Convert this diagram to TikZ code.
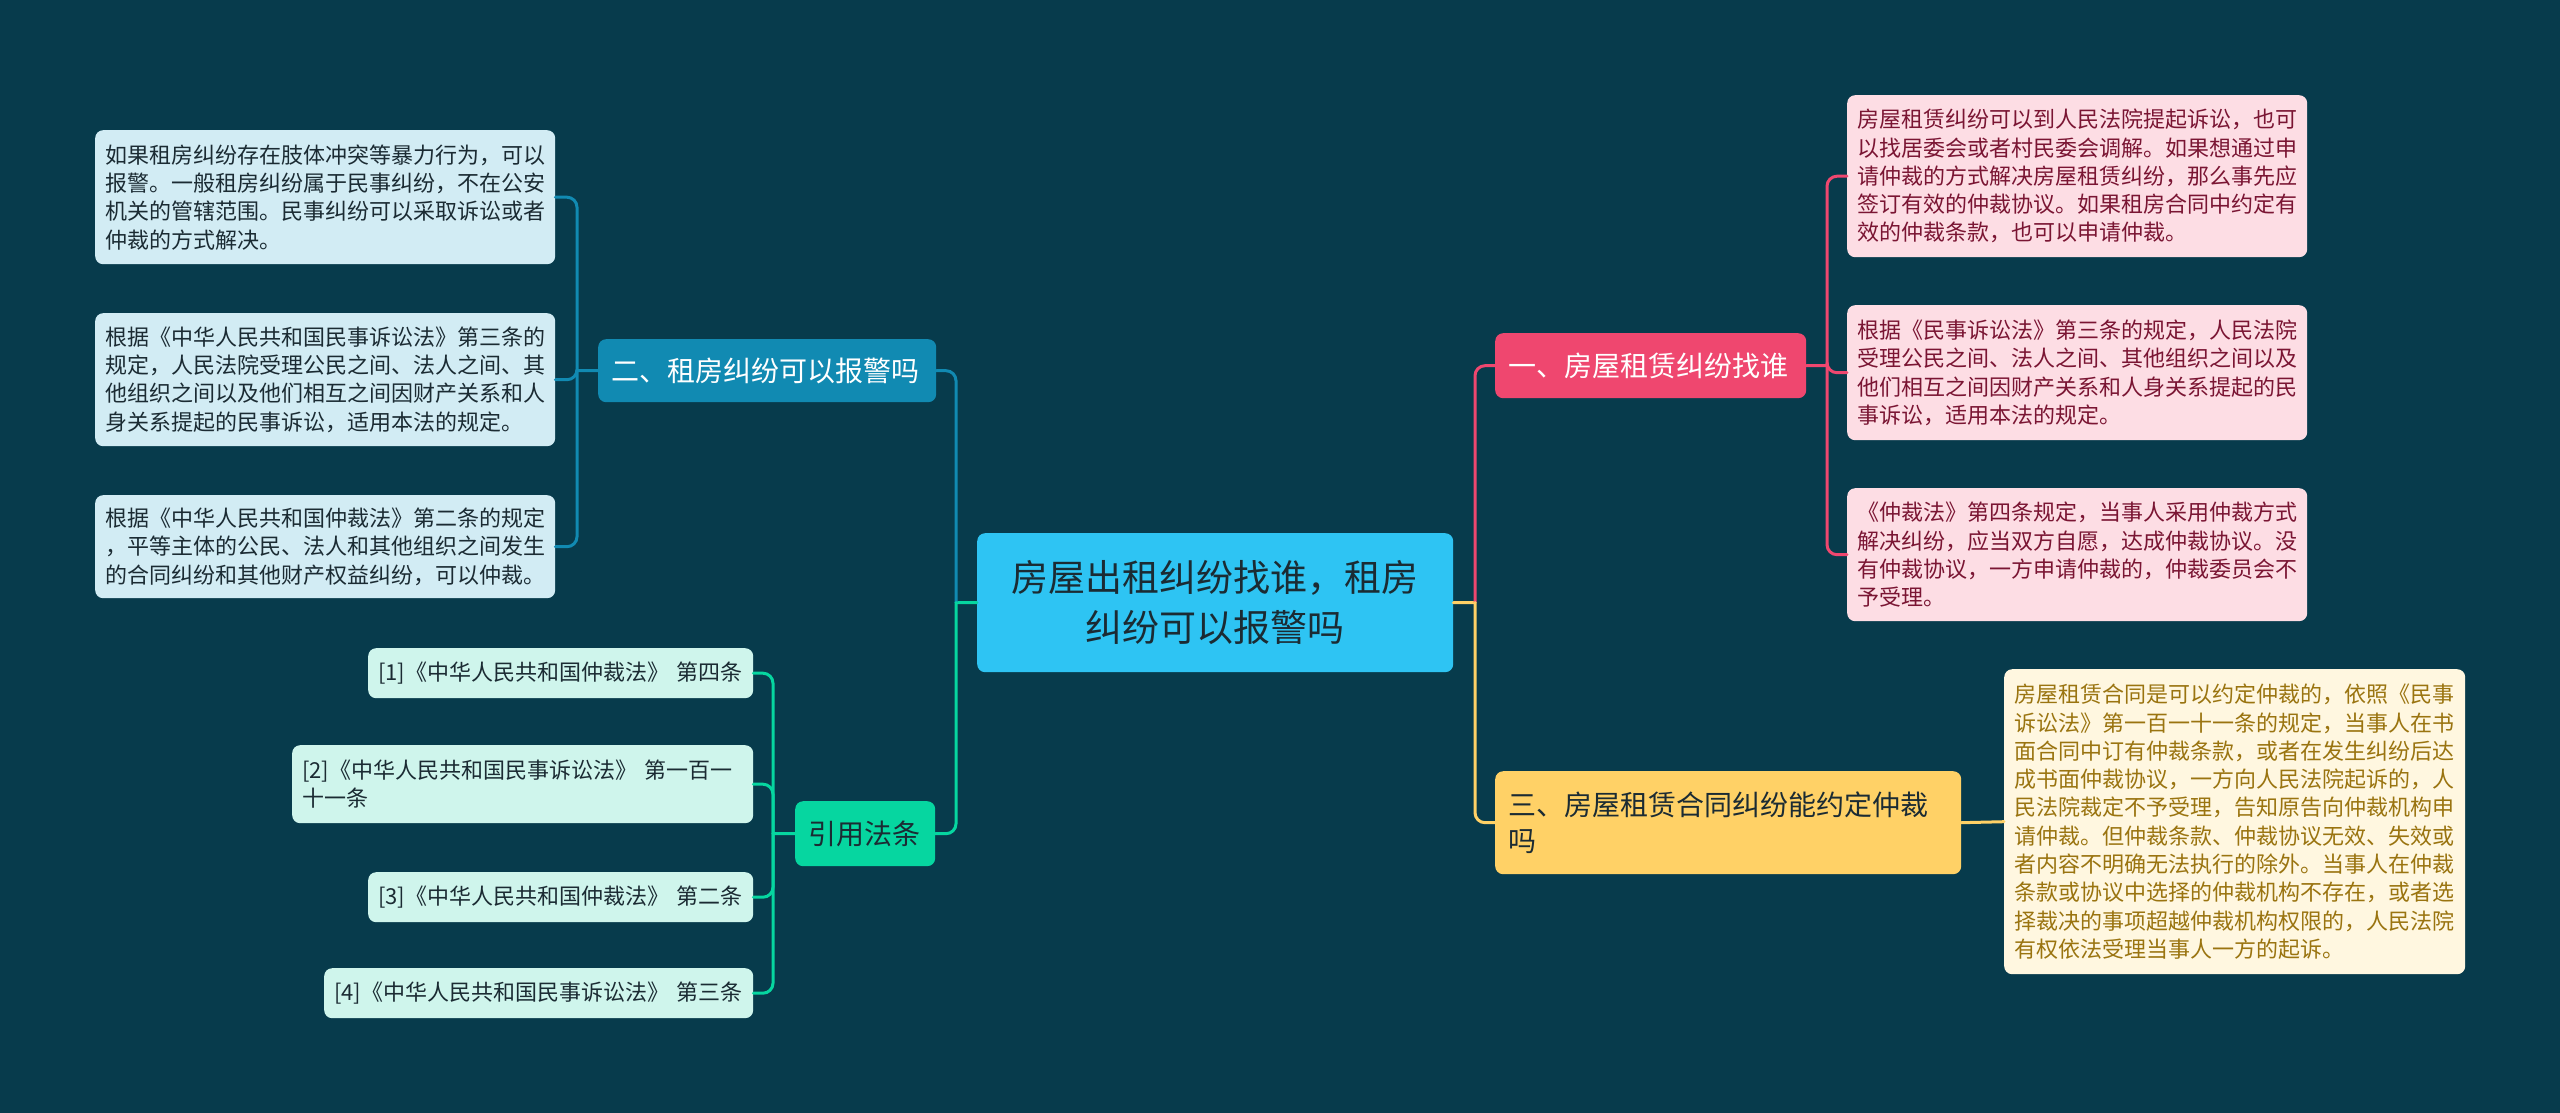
\documentclass[tikz,border=0pt]{standalone}
\usepackage{fontspec}
\setmainfont{Noto Sans CJK SC}
\definecolor{bg}{HTML}{073B4C}
\definecolor{cblue}{HTML}{2EC4F3}
\definecolor{cpink}{HTML}{EF476F}
\definecolor{cyel}{HTML}{FFD166}
\definecolor{cteal}{HTML}{118AB2}
\definecolor{cgreen}{HTML}{06D6A0}
\definecolor{lpink}{HTML}{FDDDE4}
\definecolor{tpink}{HTML}{7A1533}
\definecolor{lyel}{HTML}{FFF7E0}
\definecolor{tyel}{HTML}{9A7410}
\definecolor{lblue}{HTML}{D2ECF4}
\definecolor{lmint}{HTML}{CFF5EC}
\definecolor{tdark}{HTML}{1B2B33}
\begin{document}
\begin{tikzpicture}[x=1pt,y=1pt,
  box/.style={rounded corners=8, inner ysep=0, anchor=north west, align=left},
  small/.style={font=\fontsize{22}{28.3}\selectfont, inner xsep=10},
  big/.style={font=\fontsize{28}{36}\selectfont, inner xsep=13},
  leafR/.style={box, small, fill=lpink, text=tpink},
  leafY/.style={box, small, fill=lyel, text=tyel},
  leafL/.style={box, small, fill=lblue, text=tdark},
  leafC/.style={box, small, fill=lmint, text=tdark, inner xsep=10},
  conn/.style={line width=3, line cap=round, rounded corners=10},
]
\fill[bg] (0,0) rectangle (2560,-1113);
\useasboundingbox (0,0) rectangle (2560,-1113);

% central
\node[box, align=center, fill=cblue, text=tdark, font=\fontsize{37}{50}\selectfont,
  minimum height=139, text width=476, inner xsep=0] (C) at (977,-533)
  {房屋出租纠纷找谁，租房\\纠纷可以报警吗};

% main branches
\node[box, big, fill=cpink, text=white, minimum height=65, text width=285] (B1) at (1495,-333)
  {一、房屋租赁纠纷找谁};
\node[box, big, fill=cteal, text=white, minimum height=63, text width=312] (B2) at (598,-339)
  {二、租房纠纷可以报警吗};
\node[box, big, fill=cyel, text=tdark, minimum height=103, text width=440] (B3) at (1495,-771)
  {三、房屋租赁合同纠纷能约定仲裁\\吗};
\node[box, big, fill=cgreen, text=tdark, minimum height=65, text width=114] (B4) at (795,-801)
  {引用法条};

% right leaves
\node[leafR, minimum height=162, text width=440] (R1) at (1847,-95)
  {房屋租赁纠纷可以到人民法院提起诉讼，也可\\以找居委会或者村民委会调解。如果想通过申\\请仲裁的方式解决房屋租赁纠纷，那么事先应\\签订有效的仲裁协议。如果租房合同中约定有\\效的仲裁条款，也可以申请仲裁。};
\node[leafR, minimum height=135, text width=440] (R2) at (1847,-305)
  {根据《民事诉讼法》第三条的规定，人民法院\\受理公民之间、法人之间、其他组织之间以及\\他们相互之间因财产关系和人身关系提起的民\\事诉讼，适用本法的规定。};
\node[leafR, minimum height=133, text width=440] (R3) at (1847,-488)
  {《仲裁法》第四条规定，当事人采用仲裁方式\\解决纠纷，应当双方自愿，达成仲裁协议。没\\有仲裁协议，一方申请仲裁的，仲裁委员会不\\予受理。};
\node[leafY, minimum height=305, text width=441] (Y) at (2004,-669)
  {房屋租赁合同是可以约定仲裁的，依照《民事\\诉讼法》第一百一十一条的规定，当事人在书\\面合同中订有仲裁条款，或者在发生纠纷后达\\成书面仲裁协议，一方向人民法院起诉的，人\\民法院裁定不予受理，告知原告向仲裁机构申\\请仲裁。但仲裁条款、仲裁协议无效、失效或\\者内容不明确无法执行的除外。当事人在仲裁\\条款或协议中选择的仲裁机构不存在，或者选\\择裁决的事项超越仲裁机构权限的，人民法院\\有权依法受理当事人一方的起诉。};

% left leaves
\node[leafL, minimum height=134, text width=440] (L1) at (95,-130)
  {如果租房纠纷存在肢体冲突等暴力行为，可以\\报警。一般租房纠纷属于民事纠纷，不在公安\\机关的管辖范围。民事纠纷可以采取诉讼或者\\仲裁的方式解决。};
\node[leafL, minimum height=133, text width=440] (L2) at (95,-313)
  {根据《中华人民共和国民事诉讼法》第三条的\\规定，人民法院受理公民之间、法人之间、其\\他组织之间以及他们相互之间因财产关系和人\\身关系提起的民事诉讼，适用本法的规定。};
\node[leafL, minimum height=103, text width=440] (L3) at (95,-495)
  {根据《中华人民共和国仲裁法》第二条的规定\\，平等主体的公民、法人和其他组织之间发生\\的合同纠纷和其他财产权益纠纷，可以仲裁。};

% citations
\node[leafC, minimum height=50, text width=365] (C1) at (368,-648)
  {\mbox{[1]《中华人民共和国仲裁法》 第四条}};
\node[leafC, minimum height=78, text width=441] (C2) at (292,-745)
  {\mbox{[2]《中华人民共和国民事诉讼法》 第一百一}\\十一条};
\node[leafC, minimum height=50, text width=365] (C3) at (368,-872)
  {\mbox{[3]《中华人民共和国仲裁法》 第二条}};
\node[leafC, minimum height=50, text width=409] (C4) at (324,-968)
  {\mbox{[4]《中华人民共和国民事诉讼法》 第三条}};

% junctions
\coordinate (jR) at (1475,-602.5);
\coordinate (jL) at (956,-602.5);
\coordinate (j1) at (1827,-365.5);
\coordinate (j2) at (577,-370.5);
\coordinate (jC) at (773,-833.5);

% connectors right
\draw[conn, cyel] (C.east) -- (jR);
\draw[conn, cpink] (jR) |- (B1.west);
\draw[conn, cyel] (jR) |- (B3.west);
\draw[conn, cpink] (B1.east) -- (j1);
\draw[conn, cpink] (j1) |- (R1.west);
\draw[conn, cpink] (j1) |- (R2.west);
\draw[conn, cpink] (j1) |- (R3.west);
\draw[conn, cyel] (B3.east) -- (Y.west);

% connectors left
\draw[conn, cgreen] (C.west) -- (jL);
\draw[conn, cteal] (jL) |- (B2.east);
\draw[conn, cgreen] (jL) |- (B4.east);
\draw[conn, cteal] (B2.west) -- (j2);
\draw[conn, cteal] (j2) |- (L1.east);
\draw[conn, cteal] (j2) |- (L2.east);
\draw[conn, cteal] (j2) |- (L3.east);
\draw[conn, cgreen] (B4.west) -- (jC);
\draw[conn, cgreen] (jC) |- (C1.east);
\draw[conn, cgreen] (jC) |- (C2.east);
\draw[conn, cgreen] (jC) |- (C3.east);
\draw[conn, cgreen] (jC) |- (C4.east);
\end{tikzpicture}
\end{document}
